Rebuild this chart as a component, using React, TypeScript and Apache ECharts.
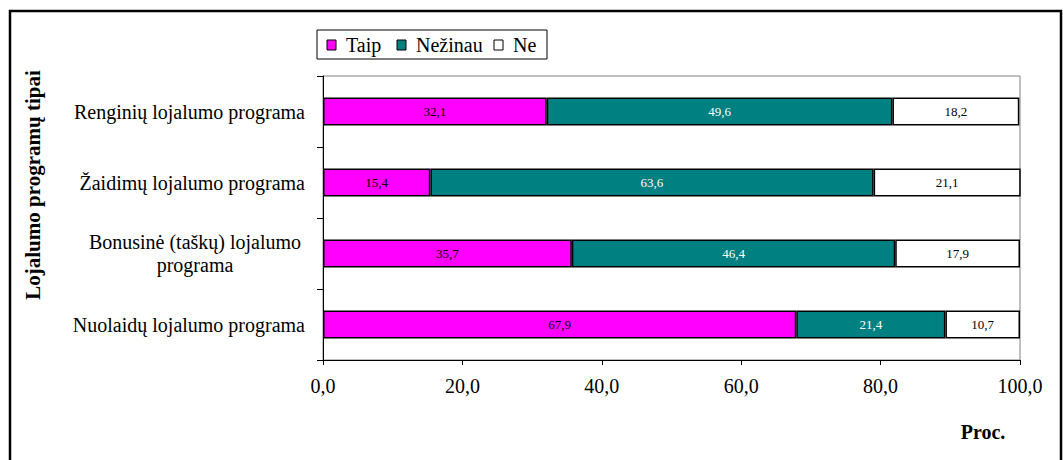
import React, { useEffect, useRef } from "react";
import * as echarts from "echarts";

// Loyalty programme types (top to bottom)
const categories = [
  "Renginių lojalumo programa",
  "Žaidimų lojalumo programa",
  "Bonusinė (taškų) lojalumo\nprograma",
  "Nuolaidų lojalumo programa",
];

const seriesNames = ["Taip", "Nežinau", "Ne"];
const taip = [32.1, 15.4, 35.7, 67.9];
const nezinau = [49.6, 63.6, 46.4, 21.4];
const ne = [18.2, 21.1, 17.9, 10.7];

const xTicks = [0, 20, 40, 60, 80, 100];
const yAxisTitle = "Lojalumo programų tipai";
const xAxisTitle = "Proc.";

const FONT = "'Liberation Serif', 'Times New Roman', serif";
const colors = ["#FF00FF", "#008080", "#FFFFFF"];
const labelColors = ["#000000", "#FFFFFF", "#000000"];

// Legend box layout (keys drawn as small swatches followed by the series name)
const legendBox = { x: 317, y: 30, width: 230, height: 29 };
const legendKeyX = [327, 397, 494];

const fmt = (v: number) => v.toFixed(1).replace(".", ",");

export default function App() {
  const ref = useRef<HTMLDivElement>(null);

  useEffect(() => {
    if (!ref.current) return;
    const chart = echarts.init(ref.current, null, { renderer: "svg" });

    const values = [taip, nezinau, ne];
    const series = seriesNames.map((name, i) => ({
      name,
      type: "bar",
      stack: "total",
      barWidth: 28,
      data: values[i],
      itemStyle: { color: colors[i], borderColor: "#000", borderWidth: 1.5 },
      label: {
        show: true,
        position: "inside",
        fontFamily: FONT,
        fontSize: 13,
        color: labelColors[i],
        formatter: (p: any) => fmt(p.value),
      },
    }));

    const legendItems: any[] = [
      {
        type: "rect",
        shape: { ...legendBox },
        style: { fill: "#fff", stroke: "#000", lineWidth: 1 },
        silent: true,
      },
    ];
    seriesNames.forEach((name, i) => {
      const kx = legendKeyX[i];
      legendItems.push({
        type: "rect",
        shape: { x: kx, y: 40, width: 9, height: 10 },
        style: { fill: colors[i], stroke: "#000", lineWidth: 1 },
        silent: true,
      });
      legendItems.push({
        type: "text",
        x: kx + 19,
        y: 45,
        style: {
          text: name,
          fontFamily: FONT,
          fontSize: 20,
          fontWeight: "normal",
          fill: "#000",
          align: "left",
          verticalAlign: "middle",
        },
        silent: true,
      });
    });

    chart.setOption({
      animation: false,
      backgroundColor: "#fff",
      textStyle: { fontFamily: FONT },
      grid: {
        left: 323,
        right: 43,
        top: 76,
        bottom: 100,
        show: true,
        borderColor: "#808080",
        borderWidth: 1,
        backgroundColor: "transparent",
      },
      xAxis: {
        type: "value",
        min: xTicks[0],
        max: xTicks[xTicks.length - 1],
        interval: xTicks[1] - xTicks[0],
        axisLine: { show: true, lineStyle: { color: "#000", width: 1 } },
        axisTick: { show: true, length: 5, lineStyle: { color: "#000" } },
        splitLine: { show: false },
        axisLabel: {
          margin: 16,
          fontFamily: FONT,
          fontSize: 20,
          color: "#000",
          formatter: (v: number) => fmt(v),
        },
      },
      yAxis: {
        type: "category",
        inverse: true,
        data: categories,
        axisLine: { show: true, lineStyle: { color: "#000", width: 1 } },
        axisTick: { show: true, length: 6, lineStyle: { color: "#000" } },
        splitLine: { show: false },
        axisLabel: {
          margin: 18,
          fontFamily: FONT,
          fontSize: 20,
          color: "#000",
          align: "right",
          formatter: (v: string) =>
            v.includes("\n")
              ? v
                  .split("\n")
                  .map((line) => `{c|${line}}`)
                  .join("\n")
              : v,
          rich: {
            c: {
              width: 220,
              align: "center",
              fontFamily: FONT,
              fontSize: 20,
              lineHeight: 23,
              color: "#000",
            },
          },
        },
      },
      series,
      graphic: [
        {
          type: "rect",
          shape: { x: 10, y: 11, width: 1051, height: 470 },
          style: { fill: "none", stroke: "#000", lineWidth: 2.5 },
          silent: true,
        },
        ...legendItems,
        {
          type: "text",
          x: 33,
          y: 185,
          rotation: Math.PI / 2,
          style: {
            text: yAxisTitle,
            fontFamily: FONT,
            fontSize: 21,
            fontWeight: "bold",
            fill: "#000",
            align: "center",
            verticalAlign: "middle",
          },
        },
        {
          type: "text",
          x: 983,
          y: 432,
          style: {
            text: xAxisTitle,
            fontFamily: FONT,
            fontSize: 20,
            fontWeight: "bold",
            fill: "#000",
            align: "center",
            verticalAlign: "middle",
          },
        },
      ],
    });

    return () => chart.dispose();
  }, []);

  return (
    <div
      ref={ref}
      style={{ position: "absolute", left: 0, top: 0, width: 1063, height: 460 }}
    />
  );
}
